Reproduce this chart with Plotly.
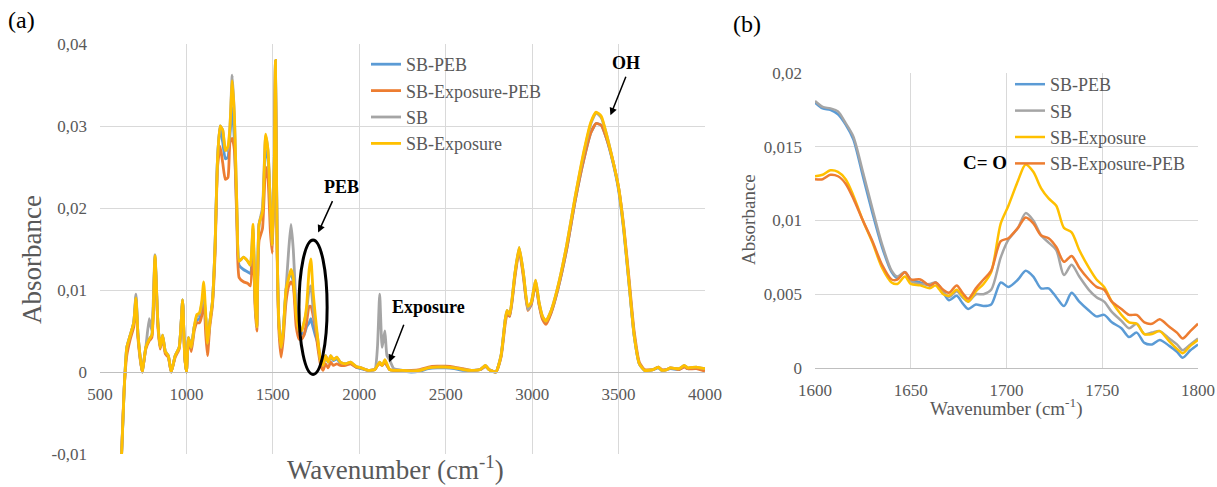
import plotly.graph_objects as go

# ---------------- Panel (a): full spectrum ----------------
wn_a = [625, 640, 655, 675, 695, 708, 720, 744, 765, 785,
        800, 818, 835, 848, 862, 878, 895, 912, 935, 958,
        978, 990, 1000, 1012, 1028, 1045, 1060, 1075, 1088, 1100,
        1112, 1122, 1135, 1150, 1165, 1180, 1195, 1210, 1225, 1240,
        1252, 1265, 1278, 1292, 1305, 1330, 1355, 1370, 1385, 1397,
        1407, 1420, 1440, 1458, 1472, 1486, 1497, 1508, 1515, 1525,
        1535, 1548, 1560, 1576, 1592, 1605, 1618, 1635, 1652, 1665,
        1680, 1695, 1710, 1720, 1732, 1745, 1760, 1775, 1790, 1805,
        1820, 1835, 1850, 1870, 1890, 1920, 1950, 1980, 2010, 2050,
        2090, 2105, 2118, 2132, 2148, 2160, 2175, 2200, 2250, 2300,
        2350, 2400, 2450, 2500, 2550, 2600, 2650, 2700, 2730, 2750,
        2790, 2820, 2845, 2855, 2870, 2900, 2925, 2950, 2975, 2995,
        3020, 3040, 3060, 3080, 3110, 3150, 3200, 3250, 3300, 3340,
        3370, 3400, 3430, 3470, 3500, 3530, 3560, 3590, 3620, 3650,
        3700, 3730, 3750, 3780, 3800, 3850, 3880, 3900, 3950, 4000]

a_sb_peb = [-0.010, -0.002, 0.003, 0.0045, 0.006, 0.0092, 0.0045, 0.0, 0.003, 0.004,
            0.0045, 0.014, 0.006, 0.003, 0.0045, 0.0025, 0.002, 0.0, 0.002, 0.003,
            0.0088, 0.002, 0.0, 0.0042, 0.003, 0.0055, 0.0063, 0.0065, 0.008, 0.009,
            0.0065, 0.003, 0.006, 0.0085, 0.015, 0.026, 0.030, 0.028, 0.026, 0.0262,
            0.029, 0.0322, 0.028, 0.019, 0.013, 0.0125, 0.0122, 0.012, 0.017, 0.009,
            0.0055, 0.018, 0.0195, 0.027, 0.026, 0.020, 0.0155, 0.025, 0.038, 0.015,
            0.006, 0.003, 0.005, 0.010, 0.0115, 0.012, 0.011, 0.007, 0.005, 0.0048,
            0.0045, 0.0055, 0.006, 0.0065, 0.0055, 0.0045, 0.0035, 0.0015, 0.0008, 0.002,
            0.0012, 0.0018, 0.0014, 0.0016, 0.0011, 0.001, 0.0011, 0.0006, 0.0004, 0.0002,
            0.0003, 0.0008, 0.0012, 0.0008, 0.0012, 0.0008, 0.0003, 0.0002, 0.0001, 0.0,
            0.0001, 0.0004, 0.0005, 0.0005, 0.0004, 0.0002, 0.0002, 0.0003, 0.0007, 0.0003,
            0.0, 0.002, 0.0065, 0.0072, 0.0068, 0.0118, 0.015, 0.0118, 0.0078, 0.0083,
            0.0108, 0.0083, 0.0066, 0.006, 0.0073, 0.0102, 0.015, 0.021, 0.026, 0.0292,
            0.0303, 0.0301, 0.0285, 0.0253, 0.0222, 0.0172, 0.0108, 0.0044, 0.001, 0.0002,
            0.0003, 0.0005, 0.0002, 0.0003, 0.0004, 0.0003, 0.0007, 0.0004, 0.0005, 0.0003]

a_sb_exp_peb = [-0.010, -0.002, 0.002, 0.004, 0.0055, 0.0085, 0.004, 0.0, 0.0028, 0.0038,
                0.0042, 0.0138, 0.0055, 0.0028, 0.0042, 0.0022, 0.0018, 0.0, 0.0018, 0.0028,
                0.0085, 0.0018, 0.0, 0.004, 0.0025, 0.005, 0.006, 0.006, 0.0068, 0.0092,
                0.0045, 0.002, 0.0055, 0.008, 0.014, 0.025, 0.0275, 0.0255, 0.0235, 0.0237,
                0.028, 0.0285, 0.027, 0.018, 0.0115, 0.011, 0.0108, 0.0105, 0.0165, 0.008,
                0.005, 0.016, 0.0175, 0.025, 0.0235, 0.017, 0.0145, 0.024, 0.0375, 0.014,
                0.005, 0.0018, 0.004, 0.0085, 0.0105, 0.011, 0.0105, 0.0055, 0.004, 0.004,
                0.0045, 0.006, 0.008, 0.008, 0.007, 0.0055, 0.003, 0.001, 0.0002, 0.001,
                0.0005, 0.0012, 0.0008, 0.001, 0.0008, 0.0008, 0.001, 0.0006, 0.0005, 0.0002,
                0.0003, 0.0008, 0.001, 0.0008, 0.0012, 0.0008, 0.0003, 0.0002, 0.0002, 0.0002,
                0.0003, 0.0006, 0.0007, 0.0007, 0.0006, 0.0004, 0.0002, 0.0003, 0.0007, 0.0003,
                0.0, 0.0018, 0.006, 0.007, 0.0068, 0.0115, 0.0148, 0.0115, 0.0075, 0.0082,
                0.0108, 0.0082, 0.0064, 0.0058, 0.0072, 0.0102, 0.015, 0.021, 0.026, 0.0292,
                0.0303, 0.0301, 0.0285, 0.0255, 0.0225, 0.0178, 0.0115, 0.005, 0.0012, 0.0003,
                0.0003, 0.0006, 0.0003, 0.0003, 0.0005, 0.0003, 0.0006, 0.0004, 0.0004, 0.0001]

a_sb = [-0.010, -0.002, 0.003, 0.0045, 0.006, 0.0095, 0.0045, 0.0, 0.003, 0.0065,
        0.005, 0.0143, 0.006, 0.003, 0.0045, 0.0025, 0.002, 0.0, 0.002, 0.003,
        0.0088, 0.002, 0.0, 0.0042, 0.003, 0.0055, 0.0068, 0.007, 0.0082, 0.0095,
        0.0065, 0.0035, 0.006, 0.0085, 0.015, 0.026, 0.030, 0.0295, 0.0272, 0.027,
        0.030, 0.0362, 0.031, 0.020, 0.0135, 0.014, 0.0135, 0.013, 0.0175, 0.009,
        0.0055, 0.018, 0.020, 0.0288, 0.027, 0.020, 0.0155, 0.025, 0.038, 0.015,
        0.006, 0.003, 0.005, 0.010, 0.015, 0.018, 0.015, 0.008, 0.005, 0.005,
        0.006, 0.0075, 0.010, 0.0105, 0.008, 0.006, 0.004, 0.0015, 0.0008, 0.002,
        0.0012, 0.002, 0.0015, 0.0018, 0.0012, 0.001, 0.0012, 0.0007, 0.0005, 0.0002,
        0.0003, 0.003, 0.0095, 0.003, 0.005, 0.002, 0.0015, 0.0004, 0.0002, 0.0001,
        0.0002, 0.0005, 0.0006, 0.0006, 0.0005, 0.0003, 0.0002, 0.0003, 0.0008, 0.0003,
        0.0, 0.002, 0.0065, 0.0075, 0.007, 0.012, 0.0152, 0.012, 0.0076, 0.0085,
        0.0112, 0.0085, 0.0068, 0.0062, 0.0075, 0.0105, 0.0155, 0.0215, 0.0268, 0.0303,
        0.0316, 0.031, 0.029, 0.0255, 0.0225, 0.0175, 0.011, 0.0045, 0.001, 0.0002,
        0.0003, 0.0006, 0.0002, 0.0003, 0.0005, 0.0004, 0.0008, 0.0005, 0.0006, 0.0004]

a_sb_exp = [-0.010, -0.002, 0.003, 0.0045, 0.006, 0.009, 0.0045, 0.0, 0.003, 0.004,
            0.0045, 0.0142, 0.006, 0.003, 0.0045, 0.0025, 0.002, 0.0, 0.002, 0.003,
            0.0088, 0.002, 0.0, 0.0042, 0.003, 0.0055, 0.007, 0.0072, 0.0085, 0.011,
            0.007, 0.0035, 0.006, 0.0085, 0.015, 0.026, 0.030, 0.0295, 0.027, 0.0275,
            0.030, 0.0355, 0.031, 0.020, 0.0135, 0.014, 0.0135, 0.013, 0.018, 0.009,
            0.0055, 0.018, 0.0195, 0.029, 0.027, 0.020, 0.0155, 0.025, 0.038, 0.015,
            0.006, 0.003, 0.005, 0.010, 0.0115, 0.0125, 0.0115, 0.007, 0.005, 0.005,
            0.006, 0.008, 0.0125, 0.0138, 0.010, 0.007, 0.004, 0.0015, 0.0008, 0.002,
            0.0012, 0.002, 0.0015, 0.0018, 0.0012, 0.001, 0.0012, 0.0007, 0.0005, 0.0002,
            0.0003, 0.0008, 0.0012, 0.0008, 0.0015, 0.001, 0.0003, 0.0002, 0.0002, 0.0001,
            0.0002, 0.0005, 0.0006, 0.0006, 0.0005, 0.0003, 0.0002, 0.0003, 0.0008, 0.0003,
            0.0, 0.002, 0.0065, 0.0075, 0.007, 0.012, 0.0152, 0.012, 0.008, 0.0085,
            0.0112, 0.0085, 0.0068, 0.0062, 0.0075, 0.0105, 0.0155, 0.0215, 0.027, 0.0305,
            0.0317, 0.0312, 0.029, 0.0255, 0.0225, 0.0175, 0.011, 0.0045, 0.001, 0.0002,
            0.0003, 0.0006, 0.0002, 0.0003, 0.0005, 0.0004, 0.0008, 0.0005, 0.0006, 0.0004]

# ---------------- Panel (b): zoom 1600-1800 ----------------
wn_b = [1600, 1604, 1608, 1612, 1616, 1620, 1625, 1630, 1635, 1640,
        1643, 1647, 1650, 1655, 1660, 1663, 1667, 1670, 1674, 1677,
        1680, 1684, 1688, 1692, 1697, 1701, 1706, 1710, 1714, 1718,
        1722, 1726, 1730, 1734, 1738, 1743, 1747, 1751, 1755, 1760,
        1764, 1768, 1772, 1776, 1780, 1785, 1789, 1792, 1796, 1800]

b_sb_peb = [0.0180, 0.0176, 0.0175, 0.0172, 0.0165, 0.0155, 0.0130, 0.0105, 0.0082, 0.0065,
            0.0061, 0.0065, 0.0060, 0.0058, 0.0056, 0.0058, 0.0051, 0.0046, 0.0049, 0.0044,
            0.0040, 0.0043, 0.0042, 0.0043, 0.0058, 0.0055, 0.0060, 0.0066, 0.0062, 0.0054,
            0.0054, 0.0048, 0.0042, 0.0051, 0.0045, 0.0039, 0.0035, 0.0036, 0.0031, 0.0027,
            0.0021, 0.0024, 0.0017, 0.0016, 0.0019, 0.0015, 0.0011, 0.0007, 0.0012, 0.0016]

b_sb = [0.0181, 0.0177, 0.0176, 0.0174, 0.0166, 0.0157, 0.0133, 0.0108, 0.0084, 0.0066,
        0.0062, 0.0065, 0.0059, 0.0057, 0.0057, 0.0058, 0.0052, 0.0048, 0.0052, 0.0048,
        0.0045, 0.0050, 0.0050, 0.0053, 0.0075, 0.0087, 0.0095, 0.0105, 0.0100, 0.0090,
        0.0085, 0.0080, 0.0063, 0.0070, 0.0062, 0.0053, 0.0048, 0.0045, 0.0038, 0.0032,
        0.0027, 0.0030, 0.0023, 0.0024, 0.0025, 0.0020, 0.0016, 0.0012, 0.0016, 0.0020]

b_sb_exp = [0.0130, 0.0131, 0.0134, 0.0133, 0.0128, 0.0117, 0.0100, 0.0085, 0.0068, 0.0058,
            0.0057, 0.0062, 0.0057, 0.0056, 0.0054, 0.0056, 0.0050, 0.0049, 0.0053, 0.0049,
            0.0045, 0.0052, 0.0057, 0.0065, 0.0098, 0.0110, 0.0127, 0.0138, 0.0133, 0.0122,
            0.0115, 0.0110, 0.0095, 0.0092, 0.0080, 0.0068, 0.0060, 0.0055, 0.0045, 0.0036,
            0.0031, 0.0030, 0.0023, 0.0023, 0.0025, 0.0018, 0.0013, 0.0010, 0.0015, 0.0019]

b_sb_exp_peb = [0.0128, 0.0128, 0.0131, 0.0130, 0.0125, 0.0115, 0.0100, 0.0086, 0.0070, 0.0060,
                0.0060, 0.0065, 0.0060, 0.0060, 0.0056, 0.0058, 0.0053, 0.0051, 0.0056, 0.0051,
                0.0047, 0.0054, 0.0060, 0.0066, 0.0086, 0.0088, 0.0095, 0.0102, 0.0098, 0.0090,
                0.0088, 0.0082, 0.0072, 0.0076, 0.0068, 0.0060, 0.0055, 0.0053, 0.0045, 0.0040,
                0.0036, 0.0036, 0.0031, 0.0030, 0.0033, 0.0028, 0.0024, 0.0020, 0.0025, 0.0030]

for arr in (a_sb_peb, a_sb_exp_peb, a_sb, a_sb_exp):
    assert len(arr) == len(wn_a), len(arr)
for arr in (b_sb_peb, b_sb, b_sb_exp, b_sb_exp_peb):
    assert len(arr) == len(wn_b), len(arr)

# tick labels (comma decimals)
a_xticks = [500, 1000, 1500, 2000, 2500, 3000, 3500, 4000]
a_yticks = [-0.01, 0, 0.01, 0.02, 0.03, 0.04]
a_ylabels = ["-0,01", "0", "0,01", "0,02", "0,03", "0,04"]
b_xticks = [1600, 1650, 1700, 1750, 1800]
b_yticks = [0, 0.005, 0.01, 0.015, 0.02]
b_ylabels = ["0", "0,005", "0,01", "0,015", "0,02"]

BLUE, ORANGE, GRAY, GOLD = "#5B9BD5", "#ED7D31", "#A5A5A5", "#FFC000"
SERIF = "Liberation Serif"
TXT = "#595959"
GRID = "#D9D9D9"

W, H = 1217, 487
def px(x):
    return x / W
def py(y):
    return 1 - y / H

fig = go.Figure()

for name, ys, col in [("SB-PEB", a_sb_peb, BLUE),
                      ("SB-Exposure-PEB", a_sb_exp_peb, ORANGE),
                      ("SB", a_sb, GRAY),
                      ("SB-Exposure", a_sb_exp, GOLD)]:
    fig.add_trace(go.Scatter(x=wn_a, y=ys, mode="lines", name=name,
                             line=dict(color=col, width=2.8, shape="spline", smoothing=0.5),
                             xaxis="x", yaxis="y", legend="legend"))

for name, ys, col in [("SB-PEB", b_sb_peb, BLUE),
                      ("SB", b_sb, GRAY),
                      ("SB-Exposure", b_sb_exp, GOLD),
                      ("SB-Exposure-PEB", b_sb_exp_peb, ORANGE)]:
    fig.add_trace(go.Scatter(x=wn_b, y=ys, mode="lines", name=name,
                             line=dict(color=col, width=2.5, shape="spline", smoothing=0.8),
                             xaxis="x2", yaxis="y2", legend="legend2"))

# plot areas in pixels
A_L, A_R, A_T, A_B = 100, 705, 44, 454
B_L, B_R, B_T, B_B = 815, 1198, 73, 368

zero_a = py(A_B) + (0 - (-0.01)) / 0.05 * (py(A_T) - py(A_B))

tickfont = dict(family=SERIF, size=17, color=TXT)

fig.update_layout(
    width=W, height=H, margin=dict(l=0, r=0, t=0, b=0, autoexpand=False),
    paper_bgcolor="white", plot_bgcolor="white",
    font=dict(family=SERIF, color=TXT),
    showlegend=True,
    xaxis=dict(domain=[px(A_L), px(A_R)], range=[500, 4000], tickvals=a_xticks,
               ticktext=[str(v) for v in a_xticks], tickfont=tickfont,
               anchor="free", position=zero_a, showline=True, linecolor="#BFBFBF",
               linewidth=1.3, showgrid=True, gridcolor=GRID, zeroline=False,
               ticks="", ticklabelstandoff=6, automargin=False),
    yaxis=dict(domain=[py(A_B), py(A_T)], range=[-0.01, 0.04], tickvals=a_yticks,
               ticktext=a_ylabels, tickfont=tickfont, showgrid=True, gridcolor=GRID,
               zeroline=False, showline=False, ticks="", anchor="x", ticklabelstandoff=12,
               automargin=False),
    xaxis2=dict(domain=[px(B_L), px(B_R)], range=[1600, 1800], tickvals=b_xticks,
                ticktext=[str(v) for v in b_xticks], tickfont=tickfont,
                anchor="y2", showline=True, linecolor="#BFBFBF", linewidth=1.3,
                showgrid=True, gridcolor=GRID, zeroline=False, ticks="",
                ticklabelstandoff=6, automargin=False),
    yaxis2=dict(domain=[py(B_B), py(B_T)], range=[0, 0.02], tickvals=b_yticks,
                ticktext=b_ylabels, tickfont=tickfont, showgrid=True, gridcolor=GRID,
                zeroline=False, showline=False, ticks="", anchor="x2", ticklabelstandoff=12,
                automargin=False),
    legend=dict(x=px(366), y=py(46), xanchor="left", yanchor="top",
                bgcolor="rgba(0,0,0,0)", font=dict(family=SERIF, size=18, color=TXT),
                tracegroupgap=0, itemwidth=30),
    legend2=dict(x=px(1010), y=py(66), xanchor="left", yanchor="top",
                 bgcolor="rgba(0,0,0,0)", font=dict(family=SERIF, size=18, color=TXT),
                 tracegroupgap=0, itemwidth=30),
)

# ellipse around the PEB region
fig.add_shape(type="circle", xref="x", yref="y", x0=1651, x1=1814, y0=-0.0003, y1=0.0161,
              line=dict(color="black", width=3))

ann = []
def pann(text, x, y, size, color=TXT, angle=0):
    return dict(text=text, x=px(x), y=py(y), xref="paper", yref="paper",
                xanchor="center", yanchor="middle", textangle=angle, showarrow=False,
                font=dict(family=SERIF, size=size, color=color))
# panel labels
ann.append(pann("(a)", 21, 20, 24, "black"))
ann.append(pann("(b)", 747, 24, 24, "black"))
# axis titles
ann.append(pann("Absorbance", 32, 260, 27, TXT, -90))
ann.append(pann("Wavenumber (cm<sup>-1</sup>)", 395, 468, 27))
ann.append(pann("Absorbance", 748, 220, 19, TXT, -90))
ann.append(pann("Wavenumber (cm<sup>-1</sup>)", 1006, 407, 19))
# band labels
def dtext(text, x, y, xr, yr, size=18):
    return dict(text=text, x=x, y=y, xref=xr, yref=yr, xanchor="center", yanchor="middle",
                showarrow=False, font=dict(family=SERIF, size=size, color="black"))
def arrow(x, y, ax, ay):
    return dict(text="", x=x, y=y, xref="x", yref="y", ax=ax, ay=ay, showarrow=True,
                arrowhead=2, arrowsize=1, arrowwidth=1.5, arrowcolor="black")
ann.append(dtext("<b>PEB</b>", 1895, 0.0226, "x", "y"))
ann.append(arrow(1762, 0.0170, 15, -33))
ann.append(dtext("<b>Exposure</b>", 2401, 0.0079, "x", "y"))
ann.append(arrow(2174, 0.0012, 15, -39))
ann.append(dtext("<b>OH</b>", 3541, 0.0377, "x", "y"))
ann.append(arrow(3453, 0.0313, 16, -40))
ann.append(dtext("<b>C= O</b>", 1689, 0.0139, "x2", "y2", 19))
fig.update_layout(annotations=ann)

fig.write_html("out.html")
